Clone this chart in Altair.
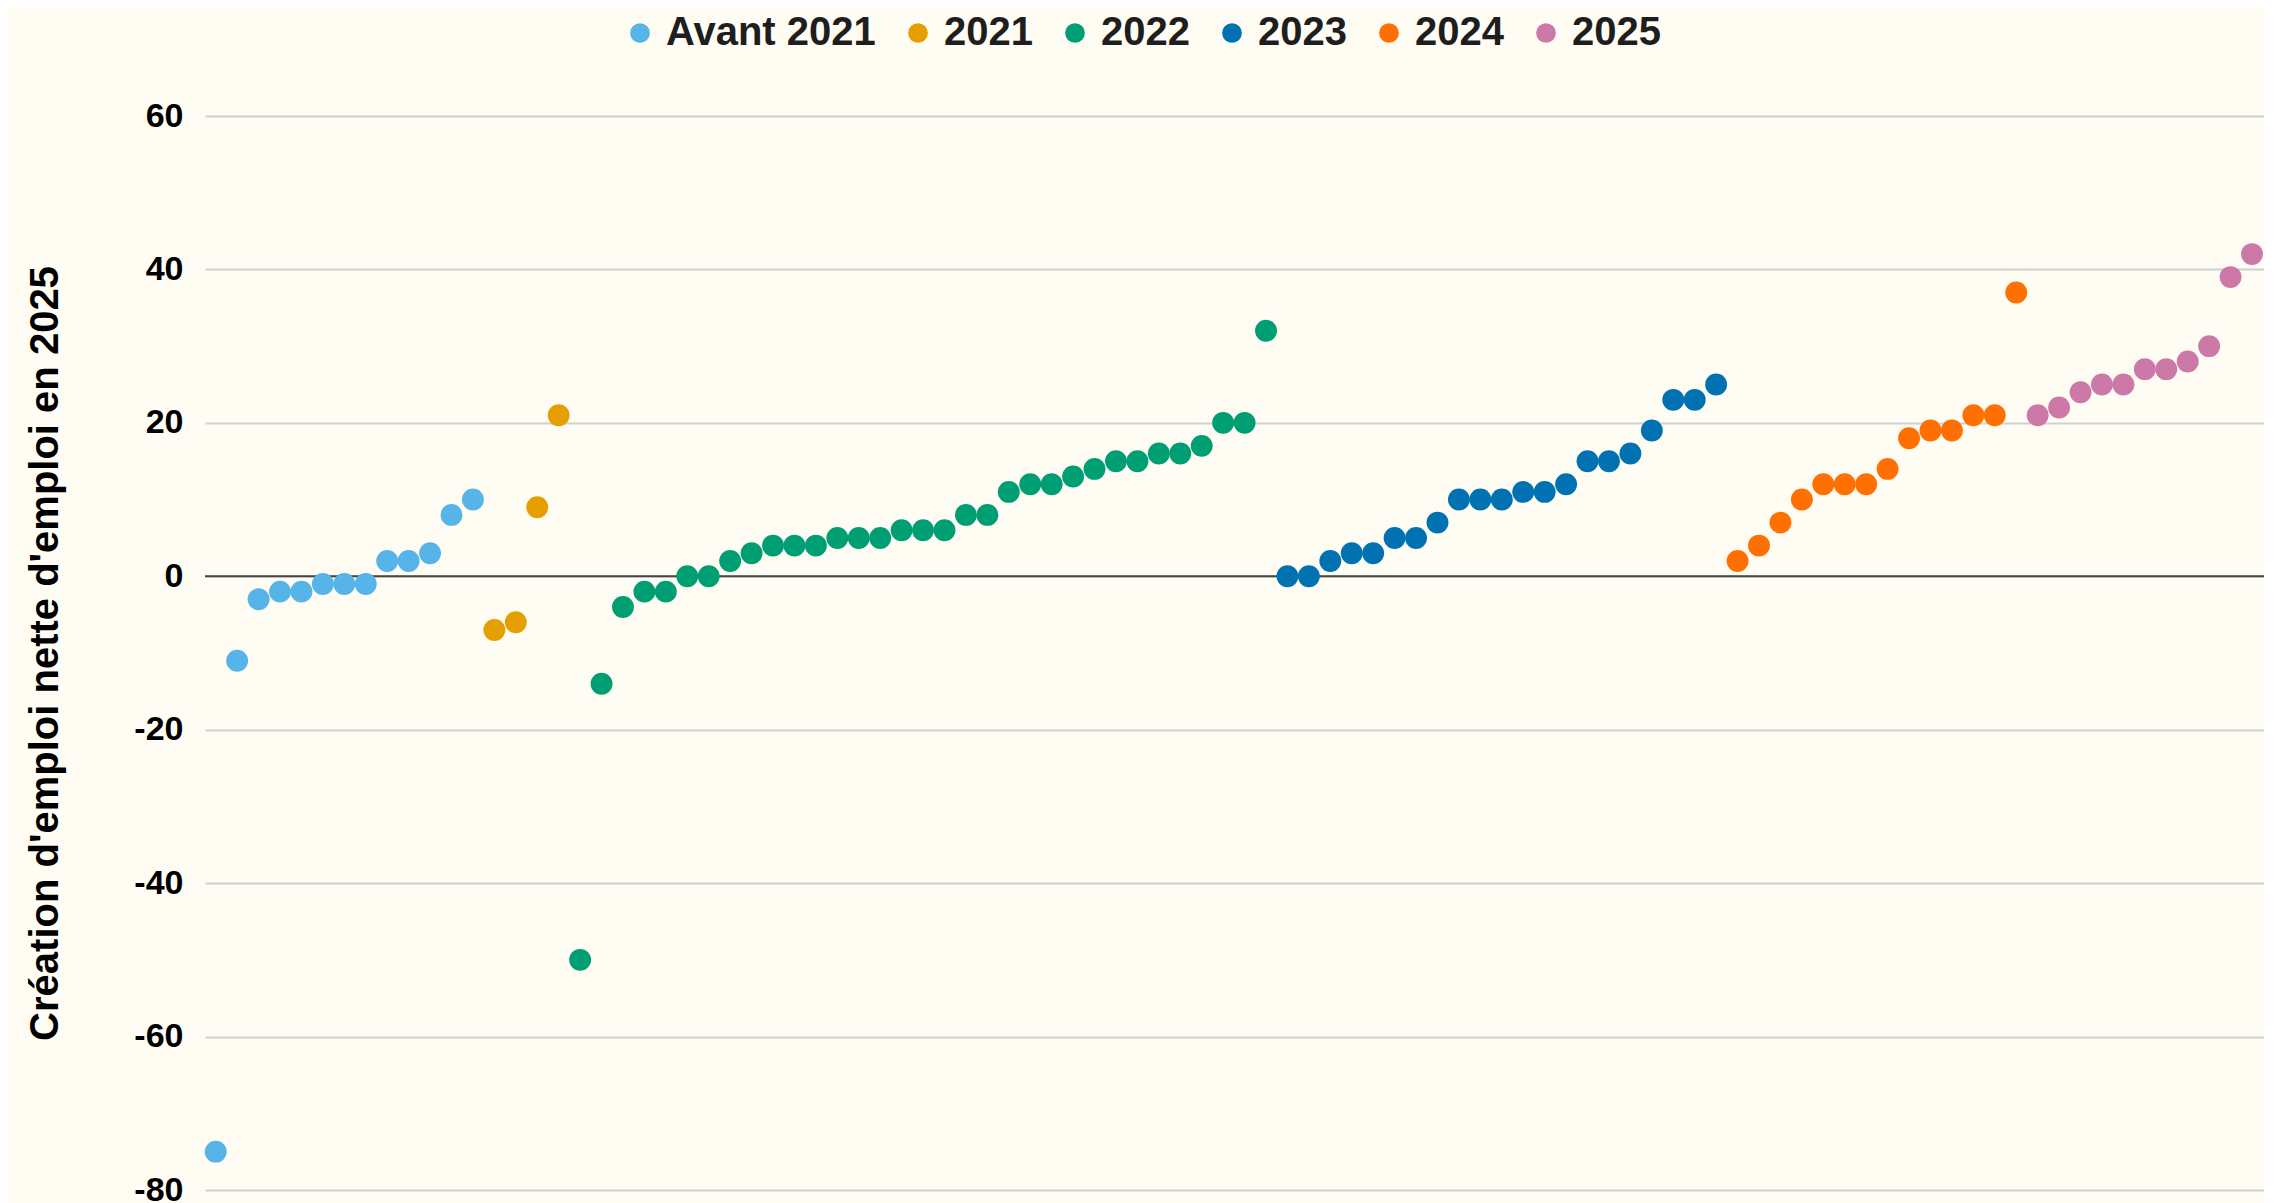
import altair as alt
import pandas as pd

groups = ["Avant 2021", "2021", "2022", "2023", "2024", "2025"]
colors = ["#56B4E9", "#E69F00", "#009E73", "#0072B2", "#FF7000", "#CC79A7"]

avant_2021 = [-75, -11, -3, -2, -2, -1, -1, -1, 2, 2, 3, 8, 10]
y2021 = [-7, -6, 9, 21]
y2022 = [-50, -14, -4, -2, -2, 0, 0, 2, 3, 4, 4, 4, 5, 5, 5, 6, 6, 6, 8, 8,
         11, 12, 12, 13, 14, 15, 15, 16, 16, 17, 20, 20, 32]
y2023 = [0, 0, 2, 3, 3, 5, 5, 7, 10, 10, 10, 11, 11, 12, 15, 15, 16, 19, 23, 23, 25]
y2024 = [2, 4, 7, 10, 12, 12, 12, 14, 18, 19, 19, 21, 21, 37]
y2025 = [21, 22, 24, 25, 25, 27, 27, 28, 30, 39, 42]

y_ticks = [-80, -60, -40, -20, 0, 20, 40, 60]

series = [avant_2021, y2021, y2022, y2023, y2024, y2025]
rows = []
for g, vals in zip(groups, series):
    for v in vals:
        rows.append({"groupe": g, "valeur": v})
df = pd.DataFrame(rows)
df["rang"] = range(len(df))

FONT = "Liberation Sans"

zero = alt.Chart(pd.DataFrame({"y": [0]})).mark_rule(color="#444444", strokeWidth=2).encode(
    y=alt.Y("y:Q", scale=alt.Scale(domain=[-80, 60]))
)

points = alt.Chart(df).mark_circle(size=480, opacity=1).encode(
    x=alt.X("rang:Q", scale=alt.Scale(domain=[-0.5, 95.56], nice=False, zero=False), axis=None),
    y=alt.Y(
        "valeur:Q",
        scale=alt.Scale(domain=[-80, 60], nice=False),
        axis=alt.Axis(
            values=y_ticks,
            labelExpr="datum.value < 0 ? '-' + abs(datum.value) : '' + datum.value",
            title="Création d'emploi nette d'emploi en 2025",
            titleFont=FONT,
            titleFontSize=40,
            titleFontWeight="bold",
            titleColor="#000000",
            titleAngle=-90,
            titleX=-160,
            titleY=537,
            titleAlign="center",
            titleBaseline="middle",
            labelFont=FONT,
            labelFontSize=34,
            labelFontWeight="bold",
            labelColor="#000000",
            labelPadding=22,
            ticks=False,
            tickSize=0,
            domain=False,
            grid=True,
            gridColor="#D0D0D0",
            gridWidth=2,
        ),
    ),
    color=alt.Color(
        "groupe:N",
        scale=alt.Scale(domain=groups, range=colors),
        legend=alt.Legend(
            title=None,
            orient="none",
            direction="horizontal",
            legendX=415,
            legendY=-103,
            symbolType="circle",
            symbolSize=390,
            symbolOpacity=1,
            labelFont=FONT,
            labelFontSize=40,
            labelFontWeight="bold",
            labelColor="#1E1E1E",
            labelOffset=6,
            columnPadding=22,
            padding=0,
            labelLimit=400,
        ),
    ),
)

chart = (
    alt.layer(zero, points)
    .properties(
        width=2059,
        height=1074,
        padding={"left": 197, "top": 108, "right": 0, "bottom": 25},
        autosize=alt.AutoSizeParams(type="none"),
        background="#FFFCF4",
    )
    .configure_view(strokeWidth=0)
)

chart.save("out.html", embed_options={"renderer": "svg", "actions": False})
